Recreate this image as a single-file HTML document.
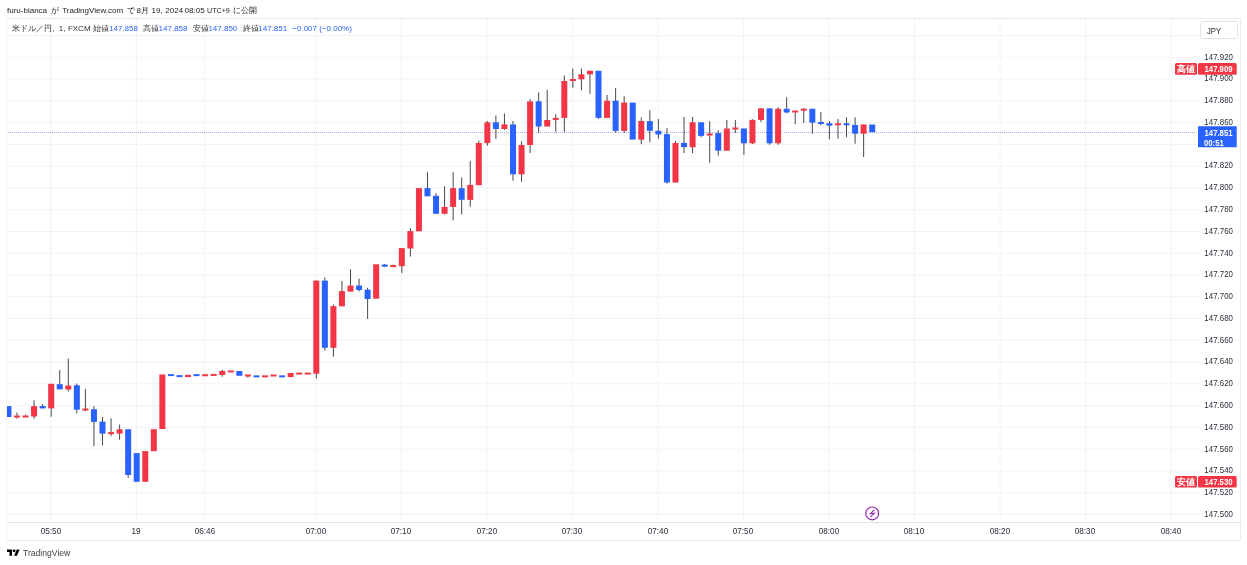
<!DOCTYPE html>
<html><head><meta charset="utf-8"><style>
html,body{margin:0;padding:0;background:#fff;width:1247px;height:565px;overflow:hidden;}
body{position:relative;will-change:transform;font-family:"Liberation Sans",sans-serif;color:#131722;}
.hw{position:absolute;top:5px;font-size:8px;line-height:12px;white-space:nowrap;color:#222;}
.lw{position:absolute;top:23px;font-size:8px;line-height:12px;white-space:nowrap;color:#333;}
.lb{color:#2962ff;}
.pl{position:absolute;left:1190px;width:43px;text-align:right;font-size:9px;line-height:12px;color:#2a2e39;transform:scaleX(0.88);transform-origin:right center;}
.tl{position:absolute;top:525px;width:40px;text-align:center;font-size:9px;line-height:12px;color:#2a2e39;transform:scaleX(0.9);}
svg{position:absolute;left:0;top:0;}
.lab{position:absolute;font-size:9px;line-height:12px;color:#fff;white-space:nowrap;}
.lab span{transform:scaleX(0.86);transform-origin:right center;font-weight:bold;}
.jpy{position:absolute;left:1207px;top:25px;font-size:9px;line-height:12px;color:#2a2e39;transform:scaleX(0.85);transform-origin:left center;}
.logo{position:absolute;left:23px;top:547px;height:12px;font-size:8.6px;line-height:12px;color:#444;white-space:nowrap;}
</style></head><body>
<svg width="1247" height="565" viewBox="0 0 1247 565"><defs><clipPath id="cp"><rect x="7" y="19" width="1233" height="503"/></clipPath></defs>
<line x1="50.79" y1="18.5" x2="50.79" y2="522.5" stroke="#f3f3f5" stroke-width="1"/><line x1="136.31" y1="18.5" x2="136.31" y2="522.5" stroke="#f3f3f5" stroke-width="1"/><line x1="204.72" y1="18.5" x2="204.72" y2="522.5" stroke="#f3f3f5" stroke-width="1"/><line x1="315.90" y1="18.5" x2="315.90" y2="522.5" stroke="#f3f3f5" stroke-width="1"/><line x1="401.42" y1="18.5" x2="401.42" y2="522.5" stroke="#f3f3f5" stroke-width="1"/><line x1="486.94" y1="18.5" x2="486.94" y2="522.5" stroke="#f3f3f5" stroke-width="1"/><line x1="572.46" y1="18.5" x2="572.46" y2="522.5" stroke="#f3f3f5" stroke-width="1"/><line x1="657.98" y1="18.5" x2="657.98" y2="522.5" stroke="#f3f3f5" stroke-width="1"/><line x1="743.50" y1="18.5" x2="743.50" y2="522.5" stroke="#f3f3f5" stroke-width="1"/><line x1="829.02" y1="18.5" x2="829.02" y2="522.5" stroke="#f3f3f5" stroke-width="1"/><line x1="914.54" y1="18.5" x2="914.54" y2="522.5" stroke="#f3f3f5" stroke-width="1"/><line x1="1000.06" y1="18.5" x2="1000.06" y2="522.5" stroke="#f3f3f5" stroke-width="1"/><line x1="1085.58" y1="18.5" x2="1085.58" y2="522.5" stroke="#f3f3f5" stroke-width="1"/><line x1="1171.10" y1="18.5" x2="1171.10" y2="522.5" stroke="#f3f3f5" stroke-width="1"/><line x1="7.5" y1="35.53" x2="1200" y2="35.53" stroke="#f3f3f5" stroke-width="1"/><line x1="7.5" y1="57.30" x2="1200" y2="57.30" stroke="#f3f3f5" stroke-width="1"/><line x1="7.5" y1="79.07" x2="1200" y2="79.07" stroke="#f3f3f5" stroke-width="1"/><line x1="7.5" y1="100.84" x2="1200" y2="100.84" stroke="#f3f3f5" stroke-width="1"/><line x1="7.5" y1="122.61" x2="1200" y2="122.61" stroke="#f3f3f5" stroke-width="1"/><line x1="7.5" y1="144.38" x2="1200" y2="144.38" stroke="#f3f3f5" stroke-width="1"/><line x1="7.5" y1="166.15" x2="1200" y2="166.15" stroke="#f3f3f5" stroke-width="1"/><line x1="7.5" y1="187.92" x2="1200" y2="187.92" stroke="#f3f3f5" stroke-width="1"/><line x1="7.5" y1="209.69" x2="1200" y2="209.69" stroke="#f3f3f5" stroke-width="1"/><line x1="7.5" y1="231.46" x2="1200" y2="231.46" stroke="#f3f3f5" stroke-width="1"/><line x1="7.5" y1="253.23" x2="1200" y2="253.23" stroke="#f3f3f5" stroke-width="1"/><line x1="7.5" y1="275.00" x2="1200" y2="275.00" stroke="#f3f3f5" stroke-width="1"/><line x1="7.5" y1="296.77" x2="1200" y2="296.77" stroke="#f3f3f5" stroke-width="1"/><line x1="7.5" y1="318.54" x2="1200" y2="318.54" stroke="#f3f3f5" stroke-width="1"/><line x1="7.5" y1="340.31" x2="1200" y2="340.31" stroke="#f3f3f5" stroke-width="1"/><line x1="7.5" y1="362.08" x2="1200" y2="362.08" stroke="#f3f3f5" stroke-width="1"/><line x1="7.5" y1="383.85" x2="1200" y2="383.85" stroke="#f3f3f5" stroke-width="1"/><line x1="7.5" y1="405.62" x2="1200" y2="405.62" stroke="#f3f3f5" stroke-width="1"/><line x1="7.5" y1="427.39" x2="1200" y2="427.39" stroke="#f3f3f5" stroke-width="1"/><line x1="7.5" y1="449.16" x2="1200" y2="449.16" stroke="#f3f3f5" stroke-width="1"/><line x1="7.5" y1="470.93" x2="1200" y2="470.93" stroke="#f3f3f5" stroke-width="1"/><line x1="7.5" y1="492.70" x2="1200" y2="492.70" stroke="#f3f3f5" stroke-width="1"/><line x1="7.5" y1="514.47" x2="1200" y2="514.47" stroke="#f3f3f5" stroke-width="1"/>
<path d="M7.0 18.5 H1240.5 V540.5 H7.0" fill="none" stroke="#ebebec" stroke-width="1"/><line x1="6.5" y1="18.5" x2="6.5" y2="540.5" stroke="#f3f3f4" stroke-width="1"/>
<line x1="7.5" y1="522.5" x2="1240.5" y2="522.5" stroke="#e2e2e4" stroke-width="1"/>
<line x1="8" y1="132.5" x2="1198" y2="132.5" stroke="#a6aee2" stroke-width="1" stroke-dasharray="1 1"/>
<g clip-path="url(#cp)"><rect x="5.43" y="406.10" width="6.0" height="10.90" fill="#2962ff"/><rect x="16.48" y="412.50" width="1" height="6.10" fill="#484848"/><rect x="13.98" y="415.50" width="6.0" height="2.00" fill="#f23645"/><rect x="25.03" y="414.60" width="1" height="2.40" fill="#484848"/><rect x="22.53" y="415.50" width="6.0" height="2.00" fill="#f23645"/><rect x="33.58" y="400.30" width="1" height="18.50" fill="#484848"/><rect x="31.08" y="406.10" width="6.0" height="10.40" fill="#f23645"/><rect x="42.14" y="404.00" width="1" height="4.40" fill="#484848"/><rect x="39.64" y="406.10" width="6.0" height="2.30" fill="#2962ff"/><rect x="50.69" y="383.80" width="1" height="32.90" fill="#484848"/><rect x="48.19" y="383.80" width="6.0" height="24.60" fill="#f23645"/><rect x="59.24" y="370.00" width="1" height="19.30" fill="#484848"/><rect x="56.74" y="384.20" width="6.0" height="5.10" fill="#2962ff"/><rect x="67.79" y="358.50" width="1" height="32.90" fill="#484848"/><rect x="65.29" y="385.60" width="6.0" height="3.90" fill="#f23645"/><rect x="76.34" y="383.50" width="1" height="29.90" fill="#484848"/><rect x="73.84" y="385.30" width="6.0" height="24.40" fill="#2962ff"/><rect x="84.90" y="389.00" width="1" height="22.30" fill="#484848"/><rect x="82.40" y="408.50" width="6.0" height="2.00" fill="#f23645"/><rect x="93.45" y="406.00" width="1" height="40.30" fill="#484848"/><rect x="90.95" y="409.20" width="6.0" height="12.70" fill="#2962ff"/><rect x="102.00" y="417.00" width="1" height="28.30" fill="#484848"/><rect x="99.50" y="421.60" width="6.0" height="12.00" fill="#2962ff"/><rect x="110.55" y="418.20" width="1" height="17.90" fill="#484848"/><rect x="108.05" y="432.10" width="6.0" height="2.00" fill="#f23645"/><rect x="119.10" y="424.50" width="1" height="15.10" fill="#484848"/><rect x="116.60" y="429.30" width="6.0" height="4.30" fill="#f23645"/><rect x="127.66" y="429.30" width="1" height="48.60" fill="#484848"/><rect x="125.16" y="429.30" width="6.0" height="45.70" fill="#2962ff"/><rect x="133.71" y="453.10" width="6.0" height="28.70" fill="#2962ff"/><rect x="142.26" y="451.10" width="6.0" height="30.70" fill="#f23645"/><rect x="150.81" y="429.20" width="6.0" height="22.00" fill="#f23645"/><rect x="159.36" y="374.50" width="6.0" height="54.50" fill="#f23645"/><rect x="167.92" y="374.10" width="6.0" height="2.00" fill="#2962ff"/><rect x="176.47" y="375.10" width="6.0" height="2.00" fill="#2962ff"/><rect x="185.02" y="374.80" width="6.0" height="2.30" fill="#f23645"/><rect x="193.57" y="374.15" width="6.0" height="2.00" fill="#2962ff"/><rect x="202.12" y="374.25" width="6.0" height="2.00" fill="#f23645"/><rect x="210.68" y="373.90" width="6.0" height="2.00" fill="#f23645"/><rect x="221.73" y="369.80" width="1" height="6.90" fill="#484848"/><rect x="219.23" y="371.00" width="6.0" height="4.00" fill="#f23645"/><rect x="227.78" y="370.45" width="6.0" height="2.00" fill="#f23645"/><rect x="236.33" y="371.00" width="6.0" height="4.80" fill="#2962ff"/><rect x="247.38" y="375.10" width="1" height="2.70" fill="#484848"/><rect x="244.88" y="374.50" width="6.0" height="2.00" fill="#f23645"/><rect x="253.44" y="375.35" width="6.0" height="2.00" fill="#2962ff"/><rect x="261.99" y="375.35" width="6.0" height="2.00" fill="#f23645"/><rect x="270.54" y="374.50" width="6.0" height="2.00" fill="#f23645"/><rect x="279.09" y="375.35" width="6.0" height="2.00" fill="#2962ff"/><rect x="287.64" y="373.00" width="6.0" height="4.10" fill="#f23645"/><rect x="296.20" y="372.55" width="6.0" height="2.00" fill="#f23645"/><rect x="304.75" y="372.55" width="6.0" height="2.00" fill="#f23645"/><rect x="315.80" y="280.60" width="1" height="98.00" fill="#484848"/><rect x="313.30" y="280.60" width="6.0" height="93.10" fill="#f23645"/><rect x="324.35" y="277.40" width="1" height="73.30" fill="#484848"/><rect x="321.85" y="280.60" width="6.0" height="67.20" fill="#2962ff"/><rect x="332.90" y="304.50" width="1" height="52.30" fill="#484848"/><rect x="330.40" y="306.20" width="6.0" height="41.60" fill="#f23645"/><rect x="341.46" y="281.00" width="1" height="25.30" fill="#484848"/><rect x="338.96" y="291.10" width="6.0" height="15.20" fill="#f23645"/><rect x="350.01" y="269.30" width="1" height="22.30" fill="#484848"/><rect x="347.51" y="285.60" width="6.0" height="6.00" fill="#f23645"/><rect x="358.56" y="278.60" width="1" height="12.90" fill="#484848"/><rect x="356.06" y="285.50" width="6.0" height="4.50" fill="#2962ff"/><rect x="367.11" y="287.80" width="1" height="31.10" fill="#484848"/><rect x="364.61" y="289.70" width="6.0" height="9.30" fill="#2962ff"/><rect x="373.16" y="264.30" width="6.0" height="34.40" fill="#f23645"/><rect x="384.22" y="264.00" width="1" height="2.70" fill="#484848"/><rect x="381.72" y="264.60" width="6.0" height="2.10" fill="#2962ff"/><rect x="392.77" y="264.50" width="1" height="2.10" fill="#484848"/><rect x="390.27" y="265.10" width="6.0" height="2.00" fill="#f23645"/><rect x="401.32" y="248.10" width="1" height="24.80" fill="#484848"/><rect x="398.82" y="248.10" width="6.0" height="18.10" fill="#f23645"/><rect x="409.87" y="228.30" width="1" height="28.30" fill="#484848"/><rect x="407.37" y="231.10" width="6.0" height="17.40" fill="#f23645"/><rect x="415.92" y="188.10" width="6.0" height="43.20" fill="#f23645"/><rect x="426.98" y="172.20" width="1" height="24.10" fill="#484848"/><rect x="424.48" y="188.10" width="6.0" height="8.20" fill="#2962ff"/><rect x="435.53" y="193.10" width="1" height="20.70" fill="#484848"/><rect x="433.03" y="195.80" width="6.0" height="18.00" fill="#2962ff"/><rect x="444.08" y="186.20" width="1" height="28.20" fill="#484848"/><rect x="441.58" y="206.90" width="6.0" height="6.90" fill="#f23645"/><rect x="452.63" y="172.20" width="1" height="48.20" fill="#484848"/><rect x="450.13" y="188.10" width="6.0" height="18.80" fill="#f23645"/><rect x="461.18" y="177.50" width="1" height="36.90" fill="#484848"/><rect x="458.68" y="188.20" width="6.0" height="11.60" fill="#2962ff"/><rect x="469.74" y="161.00" width="1" height="45.70" fill="#484848"/><rect x="467.24" y="184.90" width="6.0" height="15.00" fill="#f23645"/><rect x="478.29" y="140.70" width="1" height="44.50" fill="#484848"/><rect x="475.79" y="143.00" width="6.0" height="42.20" fill="#f23645"/><rect x="486.84" y="121.00" width="1" height="24.70" fill="#484848"/><rect x="484.34" y="122.30" width="6.0" height="20.80" fill="#f23645"/><rect x="495.39" y="115.40" width="1" height="23.60" fill="#484848"/><rect x="492.89" y="122.30" width="6.0" height="6.70" fill="#2962ff"/><rect x="503.94" y="113.60" width="1" height="16.40" fill="#484848"/><rect x="501.44" y="124.40" width="6.0" height="4.60" fill="#f23645"/><rect x="512.50" y="121.00" width="1" height="59.70" fill="#484848"/><rect x="510.00" y="124.40" width="6.0" height="49.90" fill="#2962ff"/><rect x="521.05" y="141.30" width="1" height="40.40" fill="#484848"/><rect x="518.55" y="145.00" width="6.0" height="29.30" fill="#f23645"/><rect x="529.60" y="99.20" width="1" height="53.90" fill="#484848"/><rect x="527.10" y="101.40" width="6.0" height="43.60" fill="#f23645"/><rect x="538.15" y="92.40" width="1" height="40.50" fill="#484848"/><rect x="535.65" y="101.30" width="6.0" height="25.20" fill="#2962ff"/><rect x="546.70" y="89.70" width="1" height="36.80" fill="#484848"/><rect x="544.20" y="120.00" width="6.0" height="6.50" fill="#f23645"/><rect x="555.26" y="114.20" width="1" height="17.60" fill="#484848"/><rect x="552.76" y="117.90" width="6.0" height="2.00" fill="#f23645"/><rect x="563.81" y="75.40" width="1" height="56.40" fill="#484848"/><rect x="561.31" y="81.00" width="6.0" height="36.90" fill="#f23645"/><rect x="572.36" y="68.50" width="1" height="19.30" fill="#484848"/><rect x="569.86" y="79.00" width="6.0" height="2.00" fill="#f23645"/><rect x="580.91" y="68.50" width="1" height="21.80" fill="#484848"/><rect x="578.41" y="74.30" width="6.0" height="5.00" fill="#f23645"/><rect x="589.46" y="70.80" width="1" height="23.00" fill="#484848"/><rect x="586.96" y="70.80" width="6.0" height="3.50" fill="#f23645"/><rect x="598.02" y="70.80" width="1" height="48.10" fill="#484848"/><rect x="595.52" y="70.80" width="6.0" height="47.10" fill="#2962ff"/><rect x="606.57" y="95.00" width="1" height="22.90" fill="#484848"/><rect x="604.07" y="100.70" width="6.0" height="17.20" fill="#f23645"/><rect x="615.12" y="88.10" width="1" height="44.60" fill="#484848"/><rect x="612.62" y="100.70" width="6.0" height="30.20" fill="#2962ff"/><rect x="623.67" y="96.30" width="1" height="36.90" fill="#484848"/><rect x="621.17" y="102.60" width="6.0" height="28.30" fill="#f23645"/><rect x="629.72" y="102.60" width="6.0" height="37.00" fill="#2962ff"/><rect x="640.78" y="117.50" width="1" height="26.70" fill="#484848"/><rect x="638.28" y="121.00" width="6.0" height="18.70" fill="#f23645"/><rect x="649.33" y="110.20" width="1" height="32.20" fill="#484848"/><rect x="646.83" y="121.10" width="6.0" height="9.70" fill="#2962ff"/><rect x="657.88" y="119.10" width="1" height="19.60" fill="#484848"/><rect x="655.38" y="130.80" width="6.0" height="3.70" fill="#2962ff"/><rect x="666.43" y="128.10" width="1" height="55.50" fill="#484848"/><rect x="663.93" y="134.10" width="6.0" height="48.40" fill="#2962ff"/><rect x="674.98" y="140.90" width="1" height="41.60" fill="#484848"/><rect x="672.48" y="143.00" width="6.0" height="39.50" fill="#f23645"/><rect x="683.54" y="117.00" width="1" height="36.00" fill="#484848"/><rect x="681.04" y="142.90" width="6.0" height="4.20" fill="#2962ff"/><rect x="692.09" y="117.00" width="1" height="36.10" fill="#484848"/><rect x="689.59" y="122.30" width="6.0" height="24.90" fill="#f23645"/><rect x="700.64" y="122.30" width="1" height="14.90" fill="#484848"/><rect x="698.14" y="122.30" width="6.0" height="13.60" fill="#2962ff"/><rect x="709.19" y="121.20" width="1" height="41.60" fill="#484848"/><rect x="706.69" y="133.50" width="6.0" height="2.00" fill="#f23645"/><rect x="717.74" y="130.30" width="1" height="25.30" fill="#484848"/><rect x="715.24" y="133.10" width="6.0" height="17.60" fill="#2962ff"/><rect x="726.30" y="120.00" width="1" height="30.70" fill="#484848"/><rect x="723.80" y="128.50" width="6.0" height="22.20" fill="#f23645"/><rect x="734.85" y="120.00" width="1" height="12.90" fill="#484848"/><rect x="732.35" y="127.50" width="6.0" height="2.00" fill="#f23645"/><rect x="743.40" y="128.50" width="1" height="26.50" fill="#484848"/><rect x="740.90" y="128.50" width="6.0" height="14.80" fill="#2962ff"/><rect x="751.95" y="119.20" width="1" height="24.80" fill="#484848"/><rect x="749.45" y="119.90" width="6.0" height="23.40" fill="#f23645"/><rect x="760.50" y="108.30" width="1" height="13.70" fill="#484848"/><rect x="758.00" y="108.30" width="6.0" height="11.60" fill="#f23645"/><rect x="769.06" y="108.30" width="1" height="36.40" fill="#484848"/><rect x="766.56" y="108.30" width="6.0" height="35.00" fill="#2962ff"/><rect x="777.61" y="107.20" width="1" height="37.50" fill="#484848"/><rect x="775.11" y="108.80" width="6.0" height="34.50" fill="#f23645"/><rect x="786.16" y="97.30" width="1" height="16.00" fill="#484848"/><rect x="783.66" y="108.80" width="6.0" height="3.70" fill="#2962ff"/><rect x="794.71" y="111.00" width="1" height="13.20" fill="#484848"/><rect x="792.21" y="110.50" width="6.0" height="2.00" fill="#f23645"/><rect x="803.26" y="108.10" width="1" height="14.90" fill="#484848"/><rect x="800.76" y="108.70" width="6.0" height="2.00" fill="#f23645"/><rect x="811.82" y="108.80" width="1" height="25.00" fill="#484848"/><rect x="809.32" y="108.80" width="6.0" height="13.90" fill="#2962ff"/><rect x="820.37" y="112.00" width="1" height="13.10" fill="#484848"/><rect x="817.87" y="122.00" width="6.0" height="2.00" fill="#2962ff"/><rect x="828.92" y="121.10" width="1" height="18.20" fill="#484848"/><rect x="826.42" y="123.20" width="6.0" height="2.40" fill="#2962ff"/><rect x="837.47" y="119.10" width="1" height="19.50" fill="#484848"/><rect x="834.97" y="123.30" width="6.0" height="2.00" fill="#f23645"/><rect x="846.02" y="117.20" width="1" height="19.90" fill="#484848"/><rect x="843.52" y="123.30" width="6.0" height="2.00" fill="#2962ff"/><rect x="854.58" y="117.20" width="1" height="26.50" fill="#484848"/><rect x="852.08" y="124.90" width="6.0" height="8.80" fill="#2962ff"/><rect x="863.13" y="124.50" width="1" height="32.50" fill="#484848"/><rect x="860.63" y="124.50" width="6.0" height="9.20" fill="#f23645"/><rect x="869.18" y="124.50" width="6.0" height="7.70" fill="#2962ff"/></g>
<circle cx="872.2" cy="513.4" r="6.4" fill="#fff" stroke="#9327aa" stroke-width="1.2"/>
<polyline points="874.3,510 870.3,513.7 874.4,513.3 870.4,516.9" fill="none" stroke="#9327aa" stroke-width="1.1" stroke-linejoin="miter"/>
<rect x="1175" y="63" width="22" height="11.8" rx="1.5" fill="#f23645"/>
<rect x="1198" y="63" width="38.7" height="11.8" rx="1.5" fill="#f23645"/>
<rect x="1175" y="476" width="22" height="11.6" rx="1.5" fill="#f23645"/>
<rect x="1198" y="476" width="38.7" height="11.6" rx="1.5" fill="#f23645"/>
<rect x="1198" y="126.3" width="38.7" height="21" rx="0.5" fill="#2962ff"/>
<rect x="1200.5" y="21.5" width="37" height="17" rx="2" fill="#fff" stroke="#e0e3eb" stroke-width="1"/>
</svg>
<span class="hw" style="left:7.0px">furu-bianca</span><span class="hw" style="left:51.2px">が</span><span class="hw" style="left:62.2px">TradingView.com</span><span class="hw" style="left:126.8px">で</span><span class="hw" style="left:136.4px">8月</span><span class="hw" style="left:151.5px">19,</span><span class="hw" style="left:165.3px">2024</span><span class="hw" style="left:184.6px">08:05</span><span class="hw" style="left:207.4px"><span style="display:inline-block;transform:scaleX(0.89);transform-origin:left">UTC+9</span></span><span class="hw" style="left:233.3px">に公開</span>
<span class="lw" style="left:12.2px">米ドル／円,</span><span class="lw" style="left:58.7px">1,</span><span class="lw" style="left:67.9px">FXCM</span><span class="lw" style="left:92.5px">始値</span><span class="lw lb" style="left:109.0px">147.858</span><span class="lw" style="left:142.5px">高値</span><span class="lw lb" style="left:158.6px">147.858</span><span class="lw" style="left:192.5px">安値</span><span class="lw lb" style="left:208.4px">147.850</span><span class="lw" style="left:242.5px">終値</span><span class="lw lb" style="left:258.3px">147.851</span><span class="lw lb" style="left:292.3px">−0.007 (−0.00%)</span>
<div class="lab" style="left:1175px;top:63px;width:22px;height:12px;text-align:center;font-weight:bold;">高値</div>
<div class="lab" style="left:1198px;top:63px;width:38.7px;height:12px;text-align:right;padding-right:0;"><span style="position:absolute;right:4px">147.909</span></div>
<div class="lab" style="left:1175px;top:476px;width:22px;height:12px;text-align:center;font-weight:bold;">安値</div>
<div class="lab" style="left:1198px;top:476px;width:38.7px;height:12px;"><span style="position:absolute;right:4px">147.530</span></div>
<div class="lab" style="left:1198px;top:126.5px;width:38.7px;height:21px;"><span style="position:absolute;right:4px;top:0">147.851</span><span style="position:absolute;left:5.5px;top:10px;transform-origin:left center">00:51</span></div>
<div class="jpy">JPY</div>
<svg width="12.8" height="9.94" viewBox="0 0 36 28" style="position:absolute;left:7px;top:548px"><path d="M14 22H7V11H0V4h14v18zM28 22h-8l7.5-18h8L28 22z" fill="#000"/><circle cx="20" cy="8" r="4" fill="#000"/></svg><div class="logo">TradingView</div>
<div class="pl" style="top:50.6px">147.920</div><div class="pl" style="top:72.4px">147.900</div><div class="pl" style="top:94.1px">147.880</div><div class="pl" style="top:115.9px">147.860</div><div class="pl" style="top:159.4px">147.820</div><div class="pl" style="top:181.2px">147.800</div><div class="pl" style="top:203.0px">147.780</div><div class="pl" style="top:224.8px">147.760</div><div class="pl" style="top:246.5px">147.740</div><div class="pl" style="top:268.3px">147.720</div><div class="pl" style="top:290.1px">147.700</div><div class="pl" style="top:311.8px">147.680</div><div class="pl" style="top:333.6px">147.660</div><div class="pl" style="top:355.4px">147.640</div><div class="pl" style="top:377.2px">147.620</div><div class="pl" style="top:398.9px">147.600</div><div class="pl" style="top:420.7px">147.580</div><div class="pl" style="top:442.5px">147.560</div><div class="pl" style="top:464.2px">147.540</div><div class="pl" style="top:486.0px">147.520</div><div class="pl" style="top:507.8px">147.500</div>
<div class="tl" style="left:30.6px">05:50</div><div class="tl" style="left:116.1px">19</div><div class="tl" style="left:184.5px">06:46</div><div class="tl" style="left:295.7px">07:00</div><div class="tl" style="left:381.2px">07:10</div><div class="tl" style="left:466.7px">07:20</div><div class="tl" style="left:552.3px">07:30</div><div class="tl" style="left:637.8px">07:40</div><div class="tl" style="left:723.3px">07:50</div><div class="tl" style="left:808.8px">08:00</div><div class="tl" style="left:894.3px">08:10</div><div class="tl" style="left:979.9px">08:20</div><div class="tl" style="left:1065.4px">08:30</div><div class="tl" style="left:1150.9px">08:40</div>
</body></html>
